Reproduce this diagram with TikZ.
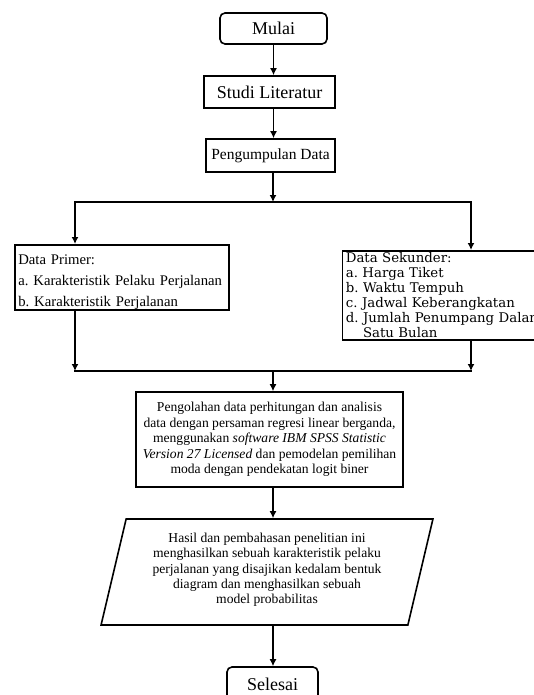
\documentclass[tikz,border=0pt]{standalone}
\usepackage{fontspec}
\setmainfont{Liberation Serif}
\newfontfamily\sekfont{DejaVu Serif}
\usepackage{tikz}
\usetikzlibrary{arrows.meta,positioning,shapes.geometric,calc}
\frenchspacing

\begin{document}
\begin{tikzpicture}[
  x=1pt, y=-1pt,
  terminal/.style={rectangle, draw=black, line width=1.6pt, rounded corners=5pt, align=center, inner sep=0pt, font=\fontsize{18}{20}\selectfont},
  box/.style={rectangle, draw=black, line width=1.6pt, align=center, inner sep=0pt},
  listbox/.style={rectangle, draw=black, line width=1.6pt, align=left, anchor=north west, inner xsep=3.5pt, inner ysep=0pt},
  iobox/.style={trapezium, trapezium left angle=75, trapezium right angle=105, trapezium stretches=true, draw=black, line width=1.6pt, align=center, inner sep=0pt, font=\fontsize{13.6}{15.2}\selectfont},
  arrow/.style={-{Latex[length=7pt,width=7pt]}, line width=1.6pt},
  link/.style={line width=1.6pt, line cap=rect}
]
\useasboundingbox (0,0) rectangle (534,695);
\clip (0,0) rectangle (534,695);

\node[terminal, minimum width=107pt, minimum height=31pt] (mulai) at (273.5,28.5) {Mulai};
\node[box, minimum width=131pt, minimum height=32pt, font=\fontsize{18}{20}\selectfont] (studi) at (269.5,92) {Studi Literatur};
\node[box, minimum width=129pt, minimum height=33pt, font=\fontsize{15.5}{18}\selectfont] (kumpul) at (270.5,155.5) {Pengumpulan Data};

\node[listbox, minimum width=214pt, minimum height=65pt, text width=207pt, font=\fontsize{14.7}{21}\selectfont] (primer) at (14,244) {\rule{0pt}{19pt}Data Primer:\\a. Karakteristik Pelaku Perjalanan\\b. Karakteristik Perjalanan};
\node[listbox, minimum width=220pt, minimum height=89pt, text width=213pt, font=\sekfont\fontsize{13.3}{15}\selectfont] (sekunder) at (341.6,250) {Data Sekunder:\\a. Harga Tiket\\b. Waktu Tempuh\\c. Jadwal Keberangkatan\\d. Jumlah Penumpang Dalam\\\phantom{d. }Satu Bulan};

\node[box, minimum width=267pt, minimum height=95pt, font=\fontsize{13.6}{15.6}\selectfont] (olah) at (269.5,439.5) {Pengolahan data perhitungan dan analisis\\data dengan persaman regresi linear berganda,\\menggunakan \textit{software IBM SPSS Statistic}\\\textit{Version 27 Licensed} dan pemodelan pemilihan\\moda dengan pendekatan logit biner};
\node[iobox, minimum width=332pt, minimum height=106pt] (hasil) at (267,572) {\raisebox{2pt}[\height][\depth]{\begin{tabular}{@{}c@{}}Hasil dan pembahasan penelitian ini\\menghasilkan sebuah karakteristik pelaku\\perjalanan yang disajikan kedalam bentuk\\diagram dan menghasilkan sebuah\\model probabilitas\end{tabular}}};
\node[terminal, minimum width=91pt, minimum height=34pt] (selesai) at (272.5,684) {Selesai};

\coordinate (split) at (273,202);
\coordinate (splitL) at (75,202);
\coordinate (splitR) at (471,202);
\coordinate (join) at (273,371);
\coordinate (joinL) at (75,371);
\coordinate (joinR) at (471,371);

\draw[arrow] (mulai.south) -- (mulai.south |- studi.north);
\draw[arrow] (mulai.south |- studi.south) -- (mulai.south |- kumpul.north);
\draw[arrow] (split |- kumpul.south) -- (split);
\draw[link] (splitL) -- (splitR);
\draw[arrow] (splitL) -- (splitL |- primer.north);
\draw[arrow] (splitR) -- (splitR |- sekunder.north);
\draw[arrow] (joinL |- primer.south) -- (joinL);
\draw[arrow] (joinR |- sekunder.south) -- (joinR);
\draw[link] (joinL) -- (joinR);
\draw[arrow] (join) -- (join |- olah.north);
\draw[arrow] (join |- olah.south) -- (join |- hasil.north);
\draw[arrow] (join |- hasil.south) -- (join |- selesai.north);
\end{tikzpicture}
\end{document}
